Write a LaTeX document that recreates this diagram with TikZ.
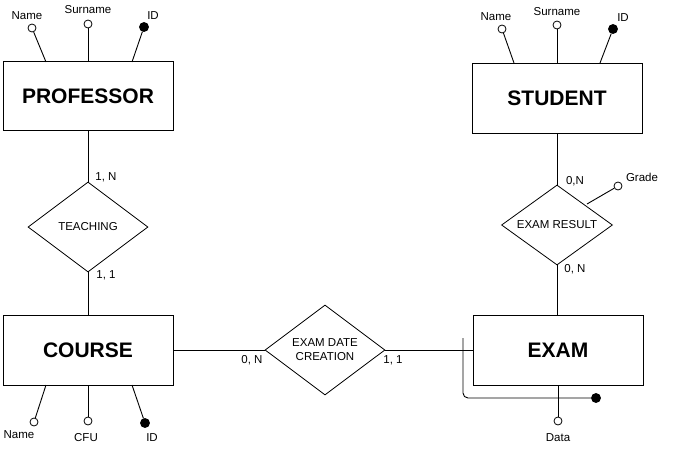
\documentclass[tikz,border=0pt]{standalone}
\usepackage{fontspec}
\setmainfont{Liberation Sans}
\usetikzlibrary{shapes.geometric}
\begin{document}
\begin{tikzpicture}[x=1pt,y=-1pt,
  entity/.style={draw,line width=1pt,minimum width=170pt,minimum height=69pt,inner sep=0pt,font=\fontsize{21}{24}\selectfont\bfseries},
  relation/.style={draw,diamond,line width=0.8pt,inner sep=0pt,shape aspect=1.35,align=center,font=\fontsize{11.5}{14}\selectfont},
  attr/.style={draw,circle,line width=0.8pt,minimum size=8pt,inner sep=0pt,fill=white},
  keyattr/.style={draw,circle,line width=0.8pt,minimum size=9pt,inner sep=0pt,fill=black},
  lbl/.style={inner sep=0pt,font=\fontsize{11.5}{13}\selectfont},
  conn/.style={line width=0.9pt}
]
\useasboundingbox (0,0) rectangle (673,450);

% entities
\node[entity] (prof) at (88,96) {PROFESSOR};
\node[entity,minimum height=70pt] (stud) at (557,98) {STUDENT};
\node[entity,minimum height=70pt] (course) at (88,350) {COURSE};
\node[entity,minimum height=70pt] (exam) at (558,350) {EXAM};

% relationships
\node[relation,minimum width=120pt,minimum height=90pt] (teach) at (88,227) {TEACHING};
\node[relation,minimum width=120pt,minimum height=90pt] (edc) at (325,350) {EXAM DATE\\CREATION};
\node[relation,minimum width=111pt,minimum height=80pt] (er) at (557,225) {EXAM RESULT};

% connectors
\draw[conn] (prof.south) -- (teach.north);
\draw[conn] (teach.south) -- (course.north);
\draw[conn] (course.east) -- (edc.west);
\draw[conn] (edc.east) -- (exam.west);
\draw[conn] (stud.south) -- (er.north);
\draw[conn] (er.south) -- (exam.north -| er.south);

% cardinalities
\node[lbl] (c1) at (106,177) {1, N};
\node[lbl] (c2) at (106,275) {1, 1};
\node[lbl] (c3) at (575,181) {0,N};
\node[lbl] (c4) at (575,269) {0, N};
\node[lbl] (c5) at (252,360) {0, N};
\node[lbl] (c6) at (393,360) {1, 1};

% professor attributes
\coordinate (pA1) at (46,62);
\coordinate (pA3) at (132,62);
\node[attr] (pName) at (32,28) {};
\node[attr] (pSurname) at (88,24) {};
\node[keyattr] (pID) at (144,27) {};
\draw[conn] (pA1) -- (pName);
\draw[conn] (prof.north) -- (pSurname);
\draw[conn] (pA3) -- (pID);
\node[lbl] (lpName) at (27,16) {Name};
\node[lbl] (lpSurname) at (88,10) {Surname};
\node[lbl] (lpID) at (153,16) {ID};

% student attributes
\coordinate (sA1) at (514,63);
\coordinate (sA3) at (600,63);
\node[attr] (sName) at (502,29) {};
\node[attr] (sSurname) at (557,25) {};
\node[keyattr] (sID) at (613,29) {};
\draw[conn] (sA1) -- (sName);
\draw[conn] (stud.north) -- (sSurname);
\draw[conn] (sA3) -- (sID);
\node[lbl] (lsName) at (496,17) {Name};
\node[lbl] (lsSurname) at (557,12) {Surname};
\node[lbl] (lsID) at (623,18) {ID};

% course attributes
\coordinate (cA1) at (46,385);
\coordinate (cA3) at (132,385);
\node[attr] (cName) at (34,422) {};
\node[attr] (cCFU) at (88,421) {};
\node[keyattr] (cID) at (145,423) {};
\draw[conn] (cA1) -- (cName);
\draw[conn] (course.south) -- (cCFU);
\draw[conn] (cA3) -- (cID);
\node[lbl] (lcName) at (19,435) {Name};
\node[lbl] (lcCFU) at (86,438) {CFU};
\node[lbl] (lcID) at (152,438) {ID};

% grade attribute
\coordinate (gA) at (587,204);
\node[attr] (grade) at (618,186) {};
\draw[conn] (gA) -- (grade);
\node[lbl] (lgrade) at (642,177) {Grade};

% exam attributes
\node[attr] (data) at (558,421) {};
\draw[conn] (exam.south) -- (data);
\node[lbl] (ldata) at (558,438) {Data};

% composite key
\coordinate (kStart) at (463,338);
\node[keyattr] (eKey) at (596,398) {};
\draw[conn,rounded corners=5pt] (kStart) -- (463,398) -- (eKey);
\end{tikzpicture}
\end{document}
